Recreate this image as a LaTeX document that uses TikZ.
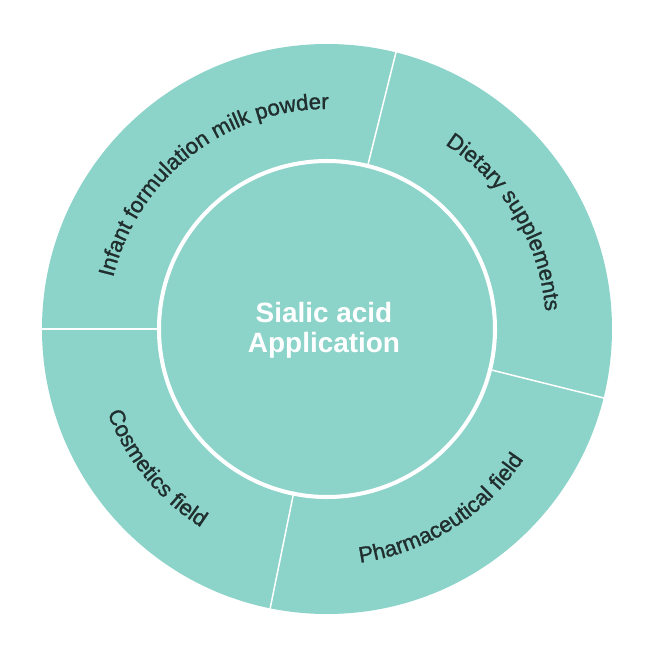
\documentclass[tikz,border=0pt]{standalone}
\usepackage{fontspec}
\setmainfont{Liberation Sans}
\newfontfamily\labelfont[FakeBold=1.2]{Liberation Sans}
\usetikzlibrary{decorations.text}
\definecolor{ringfill}{RGB}{140,211,202}
\definecolor{ink}{RGB}{32,46,46}

\begin{document}
\begin{tikzpicture}[x=0.02cm, y=0.02cm,
        divider/.style = {draw=white, line width=0.85pt},
        ring/.style = {draw=white, line width=2.3pt},
        arclabel/.style = {decorate, decoration={text along path, text align=center,
            text color=ink, text={|\labelfont\fontsize{12.6}{15}\selectfont|#1}}}]
    \useasboundingbox (-327,-321) rectangle (323,329);
    % outer disk and sector dividers
    \fill[ringfill] (0,0) circle[radius=285];
    \foreach \a in {76,-14,180,258.5}
        \draw[divider] (\a:166) -- (\a:286);
    % inner circle
    \draw[ring] (0,0) circle[radius=168];
    \node[font=\bfseries\fontsize{15.9}{17}\selectfont, text=white, align=center] (hub) at (-3,-1) {Sialic acid\\Application};
    % labels along the ring
    \path[arclabel={Infant formulation milk powder}] (198:220) arc[start angle=198, end angle=58, radius=220];
    \path[arclabel={Dietary supplements}] (101:219) arc[start angle=101, end angle=-39, radius=219];
    \path[arclabel={Pharmaceutical field}] (232.25:236) arc[start angle=232.25, end angle=372.25, radius=236];
    \path[arclabel={Cosmetics field}] (149.25:235) arc[start angle=149.25, end angle=289.25, radius=235];
\end{tikzpicture}
\end{document}
